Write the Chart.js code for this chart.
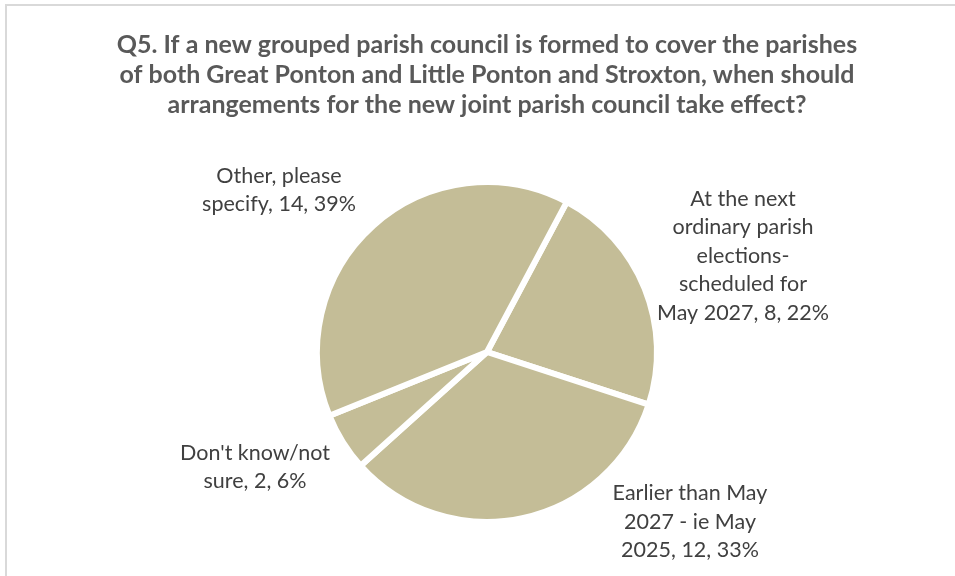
<!DOCTYPE html>
<html>
<head>
<meta charset="utf-8">
<script src="https://cdn.jsdelivr.net/npm/chart.js@4.4.1/dist/chart.umd.min.js"></script>
<style>
  html, body { margin: 0; padding: 0; background: #fff; }
  #wrap { width: 955px; height: 576px; position: relative; }
</style>
</head>
<body>
<div id="wrap"><canvas id="chart"></canvas></div>
<script>
// categories, split where the data labels wrap
const categoryLines = [
  ['At the next', 'ordinary parish', 'elections-', 'scheduled for', 'May 2027'],
  ['Earlier than May', '2027 - ie May', '2025'],
  ["Don't know/not", 'sure'],
  ['Other, please', 'specify']
];
const responses = [8, 12, 2, 14];

const titleLines = [
  'Q5. If a new grouped parish council is formed to cover the parishes',
  'of both Great Ponton and Little Ponton and Stroxton, when should',
  'arrangements for the new joint parish council take effect?'
];

const total = responses.reduce((a, b) => a + b, 0);

// label block centre, relative to pie centre
const labelOffsets = [
  [256, -96],
  [203, 170],
  [-232, 115],
  [-208, -162]
];

const frame = {
  id: 'frame',
  beforeDraw(chart) {
    const ctx = chart.ctx;
    ctx.save();
    ctx.fillStyle = '#fff';
    ctx.fillRect(0, 0, chart.width, chart.height);
    ctx.strokeStyle = '#d9d9d9';
    ctx.lineWidth = 2;
    ctx.strokeRect(6, 5, chart.width + 20, chart.height + 20);
    ctx.restore();
  }
};

const dataLabels = {
  id: 'dataLabels',
  afterDatasetsDraw(chart) {
    const ctx = chart.ctx;
    const meta = chart.getDatasetMeta(0);
    const lineH = 28.5;
    ctx.save();
    ctx.font = '21.5px Lato, "Open Sans", sans-serif';
    ctx.fillStyle = '#404040';
    ctx.textAlign = 'center';
    ctx.textBaseline = 'middle';
    meta.data.forEach((arc, i) => {
      const v = responses[i];
      const pct = Math.round(v / total * 100);
      const lines = categoryLines[i].slice();
      lines[lines.length - 1] += ', ' + v + ', ' + pct + '%';
      const cx = arc.x + labelOffsets[i][0];
      const cy = arc.y + labelOffsets[i][1];
      const y0 = cy - (lines.length - 1) * lineH / 2;
      lines.forEach((t, k) => ctx.fillText(t, cx, y0 + k * lineH));
    });
    ctx.restore();
  }
};

new Chart(document.getElementById('chart'), {
  type: 'pie',
  data: {
    labels: categoryLines.map(l => l.join(' ').replace('- ', '-')),
    datasets: [{
      data: responses,
      backgroundColor: '#c4bd97',
      borderColor: '#ffffff',
      borderWidth: 6
    }]
  },
  options: {
    responsive: true,
    maintainAspectRatio: false,
    animation: false,
    rotation: 28,
    radius: 170,
    layout: { padding: { left: 19, right: 0, top: 0, bottom: 0 } },
    plugins: {
      legend: { display: false },
      tooltip: { enabled: false },
      title: {
        display: true,
        text: titleLines,
        color: '#595959',
        font: { family: 'Lato, "Open Sans", sans-serif', size: 25, weight: 'bold', lineHeight: 1.2 },
        padding: { top: 30, bottom: 8 }
      }
    }
  },
  plugins: [frame, dataLabels]
});
</script>
</body>
</html>
